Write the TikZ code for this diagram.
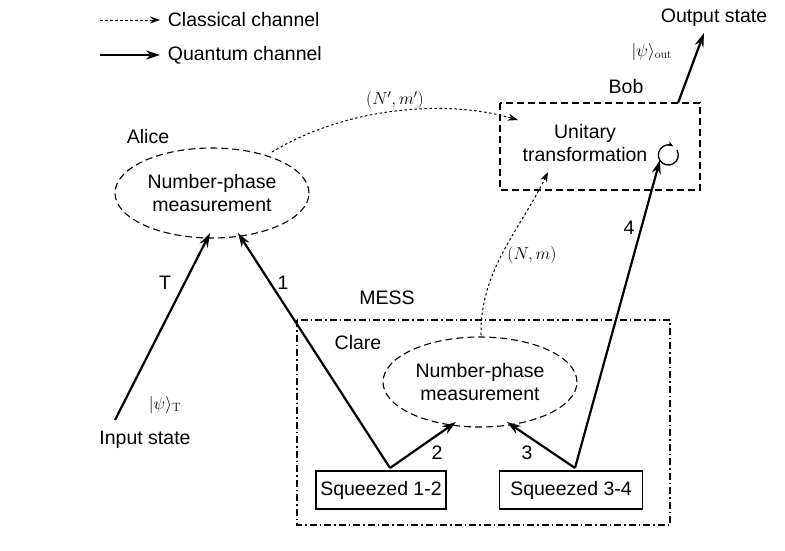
\documentclass[tikz,border=0pt]{standalone}
\usepackage{fontspec}
\setmainfont{Liberation Sans}
\newfontfamily\lmrfont{Latin Modern Roman}
\newcommand{\subrm}[1]{\mbox{\lmrfont\fontsize{12}{12}\selectfont #1}}
\usetikzlibrary{arrows.meta,shapes.geometric}
\begin{document}
\begin{tikzpicture}[x=1pt,y=-1pt,line width=1.1pt,
  q/.style={-{Stealth[length=14pt,width=9pt]},line width=2.2pt},
  c/.style={-{Stealth[length=10pt,width=7pt]},dash pattern=on 2.5pt off 2.5pt,line width=1pt},
  dsh/.style={dash pattern=on 7pt off 4pt},
  lab/.style={font=\fontsize{19.5}{23}\selectfont},
  mth/.style={font=\fontsize{18}{20}\selectfont},
  el/.style={draw,dsh,ellipse,minimum width=194pt,minimum height=90pt,inner sep=0pt,align=center,font=\fontsize{19.5}{23}\selectfont}]
\useasboundingbox (0,0) rectangle (785,550);
% legend
\coordinate (l1a) at (100,20); \coordinate (l1b) at (160,20);
\coordinate (l2a) at (100,55); \coordinate (l2b) at (160,55);
\draw[c] (l1a) -- (l1b);
\draw[q] (l2a) -- (l2b);
\node[lab,anchor=west] (lc) at (164,20) {Classical channel};
\node[lab,anchor=west] (lq) at (164,55) {Quantum channel};
% Bob
\draw[dsh] (500,103) rectangle (700,190);
\node[lab] (bob) at (626,87) {Bob};
\node[lab,align=center] (ut) at (585,143) {Unitary\\transformation};
\draw[line width=1.3pt,-{Stealth[length=6pt]}] (677,150) arc[start angle=-30,end angle=300,radius=10];
\coordinate (bobtop) at (678,103);
\coordinate (outend) at (704,33);
\draw[q] (bobtop) -- (outend);
\node[lab] (os) at (714,18) {Output state};
\node[mth] (psiout) at (652,52) {$|\psi\rangle_{\subrm{out}}$};
% Alice
\node[lab] (alice) at (148,137) {Alice};
\node[el] (ae) at (212,193) {Number-phase\\measurement};
% MESS
\draw[dash pattern=on 7pt off 3pt on 1.5pt off 3pt] (297,320) rectangle (670,525);
\node[lab] (mess) at (387,298) {MESS};
\node[lab] (clare) at (358,343) {Clare};
\node[el] (ce) at (480,382) {Number-phase\\measurement};
\node[draw,lab,minimum width=130pt,minimum height=38pt,inner sep=0pt] (s12) at (381,490) {Squeezed 1-2};
\node[draw,lab,minimum width=143pt,minimum height=38pt,inner sep=0pt] (s34) at (571,490) {Squeezed 3-4};
% classical
\coordinate (a1) at (272,152); \coordinate (b1) at (518,120);
\draw[c] (a1) .. controls (350,105) and (450,100) .. (b1);
\node[mth] (nm1) at (395,100) {$(N',m')$};
\coordinate (a2) at (481,335); \coordinate (b2) at (548,172);
\draw[c] (a2) .. controls (480,270) and (520,230) .. (b2);
\node[mth] (nm) at (532,255) {$(N,m)$};
% quantum
\coordinate (in) at (115,420); \coordinate (aT) at (210,233);
\draw[q] (in) -- (aT);
\node[lab] (T) at (165,283) {T};
\node[mth] (psiT) at (165,405) {$|\psi\rangle_{\subrm{T}}$};
\node[lab] (is) at (145,440) {Input state};
\coordinate (p12) at (390,468); \coordinate (p34) at (575,468);
\coordinate (a1e) at (238,233);
\draw[q] (p12) -- (a1e);
\node[lab] (one) at (283,283) {1};
\coordinate (c2) at (456,422); \coordinate (c3) at (507,422);
\draw[q] (p12) -- (c2);
\draw[q] (p34) -- (c3);
\node[lab] (two) at (437,453) {2};
\node[lab] (three) at (527,453) {3};
\coordinate (b4) at (660,160);
\draw[q] (p34) -- (b4);
\node[lab] (four) at (629,228) {4};
\end{tikzpicture}
\end{document}
